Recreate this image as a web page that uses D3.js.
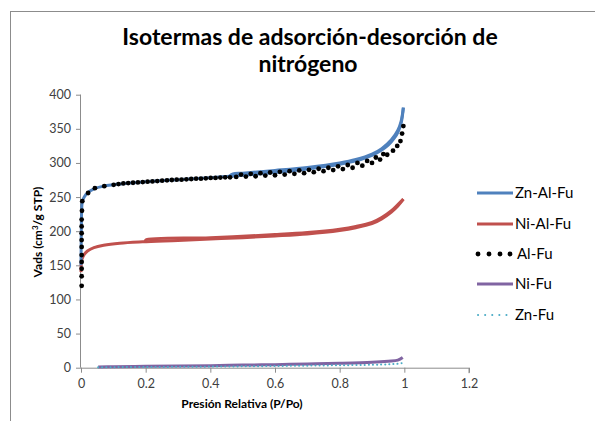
<!DOCTYPE html>
<html>
<head>
<meta charset="utf-8">
<script src="https://cdn.jsdelivr.net/npm/d3@7"></script>
<style>
  body { margin: 0; background: #fff; }
  text { font-family: Lato, "Open Sans", sans-serif; }
</style>
</head>
<body>
<svg></svg>
<script>
let width = 595;
let height = 421;

// Zn-Al-Fu (adsorción / desorción)
let znAlAdsP = [0, 0.001, 0.002, 0.004, 0.01, 0.02, 0.04, 0.07, 0.1, 0.15, 0.2, 0.3, 0.4, 0.45, 0.5, 0.6, 0.7, 0.8, 0.85, 0.9, 0.93, 0.95, 0.97, 0.98, 0.99, 0.997];
let znAlAdsV = [150, 200, 230, 243, 250, 256, 262, 266, 268, 270.5, 272.5, 275.5, 278.5, 280, 282, 286, 291, 298, 303, 311, 319, 326, 337, 345, 358, 381];
let znAlDesP = [0.997, 0.99, 0.98, 0.96, 0.93, 0.9, 0.85, 0.8, 0.7, 0.6, 0.5, 0.47, 0.46];
let znAlDesV = [381, 361, 348, 334, 321, 313, 305, 300, 293.5, 289, 285, 284, 281];

// Ni-Al-Fu
let niAlAdsP = [0, 0.001, 0.003, 0.01, 0.02, 0.04, 0.07, 0.12, 0.19, 0.3, 0.4, 0.5, 0.6, 0.7, 0.8, 0.85, 0.9, 0.93, 0.96, 0.98, 0.997];
let niAlAdsV = [140, 152, 159, 166, 171, 176, 179.5, 182.5, 184.5, 186.5, 188.5, 190.5, 193, 196, 201, 205, 211, 218, 228, 237, 247];
let niAlDesP = [0.997, 0.98, 0.96, 0.93, 0.9, 0.85, 0.8, 0.7, 0.6, 0.4, 0.2, 0.199];
let niAlDesV = [247, 239, 230, 220, 213, 207, 203, 198, 195, 190.5, 187, 185];

// Al-Fu (puntos)
let alAdsP = [0.002, 0.002, 0.002, 0.002, 0.002, 0.002, 0.002, 0.002, 0.002, 0.002, 0.003, 0.004, 0.022, 0.043, 0.072, 0.101, 0.116, 0.131, 0.146, 0.161, 0.176, 0.191, 0.206, 0.221, 0.236, 0.251, 0.266, 0.281, 0.296, 0.311, 0.326, 0.341, 0.356, 0.371, 0.386, 0.401, 0.416, 0.431, 0.446, 0.461, 0.48, 0.51, 0.54, 0.57, 0.6, 0.63, 0.66, 0.69, 0.72, 0.75, 0.78, 0.81, 0.84, 0.87, 0.9, 0.925, 0.947, 0.965, 0.978, 0.988, 0.993, 0.997];
let alAdsV = [120, 134, 145, 155, 165, 177, 187, 197, 207, 217, 230, 244, 256, 263, 266, 268, 269, 270, 270.5, 271, 271.5, 272, 272.5, 273, 273.5, 274, 274.5, 275, 275.5, 275.5, 276, 276.5, 277, 277, 277.5, 278, 278, 278.5, 279, 279, 279.5, 280, 280.5, 281.5, 282, 283, 284, 285, 286.5, 288, 289.5, 291, 293, 296, 300, 305, 312, 318, 325, 332, 343, 354];
let alDesP = [0.495, 0.525, 0.555, 0.585, 0.615, 0.645, 0.675, 0.705, 0.735, 0.765, 0.795, 0.825, 0.855, 0.885, 0.912, 0.935];
let alDesV = [283, 284, 285, 286, 287, 288, 289, 290, 291.5, 293, 295, 297, 300, 303, 308, 313];

// Ni-Fu / Zn-Fu
let niFuP = [0.053, 0.1, 0.2, 0.3, 0.4, 0.5, 0.6, 0.7, 0.8, 0.9, 0.95, 0.98, 0.995];
let niFuV = [1, 1.5, 2, 2.5, 3, 3.8, 4.5, 5.5, 6.5, 8, 9.5, 11, 15];
let znFuP = [0.053, 0.1, 0.2, 0.3, 0.4, 0.5, 0.6, 0.7, 0.8, 0.9, 0.95, 0.98, 0.995];
let znFuV = [0.5, 0.8, 1, 1.3, 1.6, 2, 2.5, 3, 3.6, 4.3, 5, 5.8, 7];

let xTicks = [0, 0.2, 0.4, 0.6, 0.8, 1, 1.2];
let yTicks = [0, 50, 100, 150, 200, 250, 300, 350, 400];

let legendLabels = ["Zn-Al-Fu", "Ni-Al-Fu", "Al-Fu", "Ni-Fu", "Zn-Fu"];
let colours = ["#4f81bd", "#c0504d", "#000000", "#8064a2", "#4bacc6"];

let svg = d3.select("svg")
  .attr("width", width)
  .attr("height", height);

// chart border
svg.append("rect")
  .attr("x", 10.5).attr("y", 11.5)
  .attr("width", 700).attr("height", 600)
  .attr("fill", "none")
  .attr("stroke", "#8c8c8c");

var x = d3.scaleLinear().domain([0, 1.2]).range([81, 469]);
var y = d3.scaleLinear().domain([0, 400]).range([367.7, 94.7]);

// axes
var xAxis = svg.append("g")
  .attr("transform", "translate(0," + y(0) + ")")
  .call(d3.axisBottom(x).tickValues(xTicks).tickSize(5).tickPadding(6)
    .tickFormat(d => d3.format("")(d)));
var yAxis = svg.append("g")
  .attr("transform", "translate(" + x(0) + ",0)")
  .call(d3.axisLeft(y).tickValues(yTicks).tickSize(5).tickPadding(5));

svg.selectAll(".domain, .tick line").attr("stroke", "#8c8c8c");
svg.selectAll(".tick text")
  .attr("fill", "#404040")
  .style("font-size", "12.5px")
  .style("font-family", "Lato, sans-serif");
xAxis.select(".domain").attr("d", "M" + x(0) + ",0.5H" + x(1.2) + "V5.5");
yAxis.select(".domain").attr("d", "M-0.5," + y(400) + "V" + y(0));

// titles
svg.append("text")
  .attr("x", 310).attr("y", 45)
  .attr("text-anchor", "middle")
  .style("font-size", "23px").style("font-weight", "bold")
  .attr("fill", "#000")
  .text("Isotermas de adsorción-desorción de");
svg.append("text")
  .attr("x", 308).attr("y", 72)
  .attr("text-anchor", "middle")
  .style("font-size", "23px").style("font-weight", "bold")
  .attr("fill", "#000")
  .text("nitrógeno");

svg.append("text")
  .attr("x", 242).attr("y", 408)
  .attr("text-anchor", "middle")
  .style("font-size", "12px").style("font-weight", "bold")
  .text("Presión Relativa (P/Po)");

var yTitle = svg.append("text")
  .attr("transform", "translate(42,232) rotate(-90)")
  .attr("text-anchor", "middle")
  .style("font-size", "12px").style("font-weight", "bold");
yTitle.append("tspan").text("Vads (cm");
yTitle.append("tspan").attr("dy", -4).style("font-size", "8px").text("3");
yTitle.append("tspan").attr("dy", 4).text("/g STP)");

// lines
var line = d3.line()
  .x(d => x(d[0]))
  .y(d => y(d[1]))
  .curve(d3.curveCatmullRom.alpha(0.5));

function drawLine(ps, vs, colour, w, dash) {
  svg.append("path")
    .datum(d3.zip(ps, vs))
    .attr("d", line)
    .attr("fill", "none")
    .attr("stroke", colour)
    .attr("stroke-width", w)
    .attr("stroke-linecap", dash ? "round" : "butt")
    .attr("stroke-dasharray", dash || null);
}

drawLine(niFuP, niFuV, colours[3], 3);
drawLine(znFuP, znFuV, colours[4], 2, "0.1 4");

drawLine(niAlAdsP, niAlAdsV, colours[1], 3);
drawLine(niAlDesP, niAlDesV, colours[1], 3);

drawLine(znAlAdsP, znAlAdsV, colours[0], 3);
drawLine(znAlDesP, znAlDesV, colours[0], 3);

// Al-Fu dots
svg.append("g").selectAll("circle")
  .data(d3.zip(alAdsP.concat(alDesP), alAdsV.concat(alDesV)))
  .enter()
  .append("circle")
    .attr("cx", d => x(d[0]))
    .attr("cy", d => y(d[1]))
    .attr("r", 2.4)
    .attr("fill", "#000");

// legend
var legendY = [193, 224, 254, 284, 315];
var legend = svg.selectAll(".legend")
  .data(legendLabels)
  .enter().append("g")
  .attr("class", "legend")
  .attr("transform", (d, i) => "translate(0," + legendY[i] + ")");

legend.filter((d, i) => i === 0 || i === 1 || i === 3)
  .append("line")
    .attr("x1", 477).attr("x2", 513)
    .attr("y1", 0).attr("y2", 0)
    .attr("stroke", d => colours[legendLabels.indexOf(d)])
    .attr("stroke-width", 3);

legend.filter((d, i) => i === 2)
  .selectAll("circle")
  .data([478, 489, 500, 510])
  .enter().append("circle")
    .attr("cx", d => d).attr("cy", 0).attr("r", 2.4).attr("fill", "#000");

legend.filter((d, i) => i === 4)
  .append("line")
    .attr("x1", 478).attr("x2", 513)
    .attr("y1", 0).attr("y2", 0)
    .attr("stroke", colours[4])
    .attr("stroke-width", 2)
    .attr("stroke-linecap", "round")
    .attr("stroke-dasharray", "0.1 7");

legend.append("text")
  .attr("x", d => d === "Al-Fu" ? 517 : 515)
  .attr("y", 0)
  .attr("dy", ".35em")
  .style("font-size", "15px")
  .attr("fill", "#000")
  .text(d => d);
</script>
</body>
</html>
